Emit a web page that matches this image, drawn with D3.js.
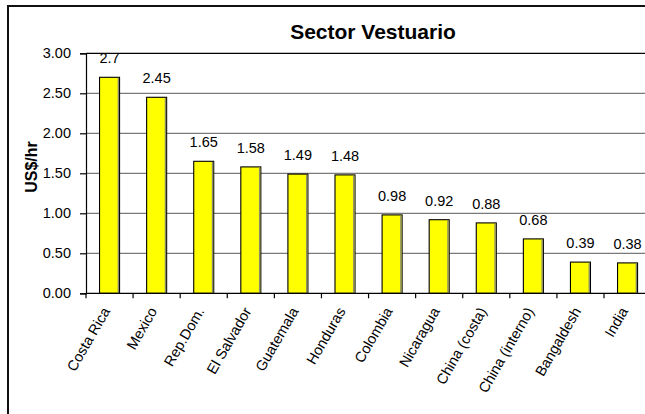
<!DOCTYPE html>
<html>
<head>
<meta charset="utf-8">
<script src="https://cdn.jsdelivr.net/npm/d3@7"></script>
<style>
  html, body { margin: 0; padding: 0; background: #fff; }
  svg { display: block; font-family: Arial, "Liberation Sans", sans-serif; }
</style>
</head>
<body>
<svg id="chart" width="645" height="414"></svg>
<script>
// Hourly labour cost in the apparel sector, by country (US$/hr)
const countries = ["Costa Rica", "Mexico", "Rep.Dom.", "El Salvador", "Guatemala", "Honduras",
                   "Colombia", "Nicaragua", "China (costa)", "China (interno)", "Bangaldesh", "India"];
const wages = [2.7, 2.45, 1.65, 1.58, 1.49, 1.48, 0.98, 0.92, 0.88, 0.68, 0.39, 0.38];
const valueLabels = ["2.7", "2.45", "1.65", "1.58", "1.49", "1.48", "0.98", "0.92", "0.88", "0.68", "0.39", "0.38"];
const yTicks = [0, 0.5, 1.0, 1.5, 2.0, 2.5, 3.0];
const chartTitle = "Sector Vestuario";
const yTitle = "US$/hr";

const svg = d3.select("#chart");

// plot area
const plotLeft = 86, plotRight = 651.1, plotTop = 53.3, plotBottom = 293.3;

const x = d3.scaleBand()
  .domain(countries)
  .range([plotLeft, plotRight])
  .paddingInner(0.575)
  .paddingOuter(0.2875);

const y = d3.scaleLinear().domain([0, 3]).range([plotBottom, plotTop]);

// outer chart frame
svg.append("rect")
  .attr("x", 8).attr("y", 6)
  .attr("width", 720).attr("height", 520)
  .attr("fill", "#fff")
  .attr("stroke", "#111").attr("stroke-width", 2);

// title
svg.append("text")
  .attr("x", 373).attr("y", 38.5)
  .attr("text-anchor", "middle")
  .attr("font-size", 21).attr("font-weight", "bold")
  .attr("fill", "#000")
  .text(chartTitle);

// horizontal gridlines
svg.append("g")
  .selectAll("line")
  .data(yTicks.filter(d => d > 0 && d < 3))
  .join("line")
  .attr("x1", plotLeft).attr("x2", plotRight + 10)
  .attr("y1", d => y(d)).attr("y2", d => y(d))
  .attr("stroke", "#7a7a7a").attr("stroke-width", 1.2);

// top border of the plot at 3.00
svg.append("line")
  .attr("x1", plotLeft).attr("x2", plotRight + 10)
  .attr("y1", y(3)).attr("y2", y(3))
  .attr("stroke", "#000").attr("stroke-width", 1.2);

// y axis
const yAxis = d3.axisLeft(y)
  .tickValues(yTicks)
  .tickFormat(d3.format(".2f"))
  .tickSize(6)
  .tickPadding(9);

const gy = svg.append("g")
  .attr("transform", `translate(${plotLeft},0)`)
  .call(yAxis);
gy.select(".domain").attr("stroke", "#000").attr("stroke-width", 1.2);
gy.selectAll(".tick line").attr("stroke", "#000").attr("stroke-width", 1.2);
gy.selectAll(".tick text")
  .attr("font-size", 14.5)
  .attr("font-family", "Arial, 'Liberation Sans', sans-serif")
  .attr("fill", "#000");

// y axis title
svg.append("text")
  .attr("transform", `translate(36.5,167) rotate(-90)`)
  .attr("text-anchor", "middle")
  .attr("font-size", 16).attr("font-weight", "bold")
  .attr("fill", "#000")
  .text(yTitle);

// bars
const bars = svg.append("g")
  .selectAll("g")
  .data(countries.map((c, i) => ({ c, v: wages[i], label: valueLabels[i] })))
  .join("g");

bars.append("rect")
  .attr("x", d => x(d.c))
  .attr("y", d => y(d.v))
  .attr("width", x.bandwidth())
  .attr("height", d => y(0) - y(d.v))
  .attr("fill", "#ffff00")
  .attr("stroke", "#000")
  .attr("stroke-width", 1.1);

// shaded right edge of each bar
bars.append("line")
  .attr("x1", d => x(d.c) + x.bandwidth() - 1.2)
  .attr("x2", d => x(d.c) + x.bandwidth() - 1.2)
  .attr("y1", d => y(d.v) + 0.6)
  .attr("y2", y(0))
  .attr("stroke", "#8a8a70")
  .attr("stroke-width", 1.4);

// value labels
bars.append("text")
  .attr("x", d => x(d.c) + x.bandwidth() / 2)
  .attr("y", d => y(d.v) - 14)
  .attr("text-anchor", "middle")
  .attr("font-size", 14.5)
  .attr("fill", "#000")
  .text(d => d.label);

// x axis line and category boundary ticks
svg.append("line")
  .attr("x1", plotLeft).attr("x2", plotRight + 10)
  .attr("y1", y(0)).attr("y2", y(0))
  .attr("stroke", "#000").attr("stroke-width", 1.2);

svg.append("g")
  .selectAll("line")
  .data(countries)
  .join("line")
  .attr("x1", d => x(d) - x.step() * x.paddingOuter())
  .attr("x2", d => x(d) - x.step() * x.paddingOuter())
  .attr("y1", y(0)).attr("y2", y(0) + 5)
  .attr("stroke", "#000").attr("stroke-width", 1.2);

// rotated category labels
svg.append("g")
  .selectAll("text")
  .data(countries)
  .join("text")
  .attr("transform", d => `translate(${x(d) + x.bandwidth() / 2 + 1},311) rotate(-60)`)
  .attr("text-anchor", "end")
  .attr("font-size", 14.5)
  .attr("fill", "#000")
  .text(d => d);
</script>
</body>
</html>
